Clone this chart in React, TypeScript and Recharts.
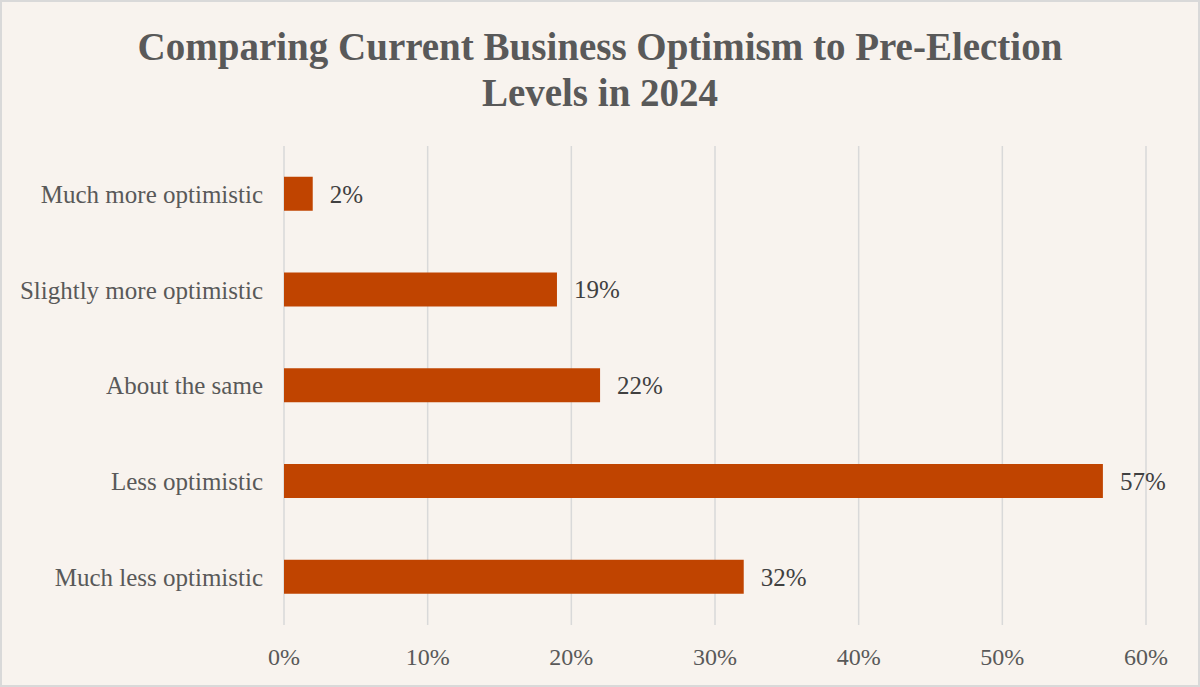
import { BarChart, Bar, XAxis, YAxis, CartesianGrid, LabelList } from "recharts";

const categories = [
  "Much more optimistic",
  "Slightly more optimistic",
  "About the same",
  "Less optimistic",
  "Much less optimistic",
];
const shares = [2, 19, 22, 57, 32];
const xTicks = [0, 10, 20, 30, 40, 50, 60];

const data = categories.map((name, i) => ({ name, value: shares[i] }));

const FONT = '"Liberation Serif", "Times New Roman", serif';

export default function App() {
  return (
    <div
      style={{
        position: "relative",
        width: 1200,
        height: 687,
        background: "#f8f3ee",
        border: "2px solid #d9d9d9",
        boxSizing: "border-box",
        fontFamily: FONT,
      }}
    >
      <style>{"body{margin:0}"}</style>
      <div
        style={{
          position: "absolute",
          top: 22,
          left: 0,
          width: "100%",
          textAlign: "center",
          fontSize: 39,
          fontWeight: "bold",
          lineHeight: "46px",
          color: "#595959",
        }}
      >
        Comparing Current Business Optimism to Pre-Election
        <br />
        Levels in 2024
      </div>
      <BarChart
        width={1196}
        height={683}
        data={data}
        layout="vertical"
        barCategoryGap="32%"
        margin={{ top: 144, right: 52, bottom: 0, left: 0 }}
        style={{ position: "absolute", top: 0, left: 0 }}
      >
        <CartesianGrid horizontal={false} stroke="#d9d9d9" strokeWidth={1.5} />
        <XAxis
          type="number"
          domain={[0, 60]}
          ticks={xTicks}
          tickFormatter={(v) => `${v}%`}
          axisLine={false}
          tickLine={false}
          tickSize={0}
          tickMargin={23}
          height={60}
          tick={{ fill: "#595959", fontSize: 24, fontFamily: FONT }}
        />
        <YAxis
          type="category"
          dataKey="name"
          axisLine={false}
          tickLine={false}
          tickSize={0}
          tickMargin={21}
          width={282}
          tick={{ fill: "#595959", fontSize: 25, fontFamily: FONT }}
        />
        <Bar dataKey="value" fill="#c04400" isAnimationActive={false}>
          <LabelList
            dataKey="value"
            position="right"
            offset={17}
            formatter={(v) => `${v}%`}
            style={{ fill: "#404040", fontSize: 25, fontFamily: FONT }}
          />
        </Bar>
      </BarChart>
    </div>
  );
}
